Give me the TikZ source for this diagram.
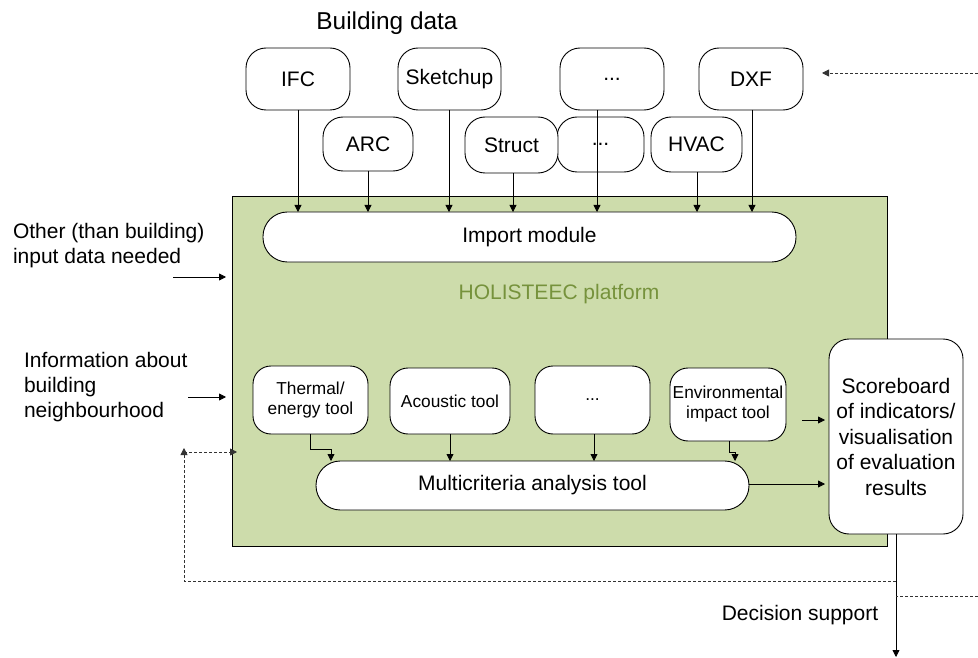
\documentclass[tikz,border=0pt]{standalone}
\usepackage{fontspec}
\setmainfont{Liberation Sans}
\usetikzlibrary{arrows.meta,calc}
\definecolor{platgreen}{RGB}{205,220,171}
\definecolor{olivetext}{RGB}{118,146,60}
\begin{document}
\begin{tikzpicture}[x=1pt,y=-1pt,
  every node/.style={inner sep=0pt,outer sep=0pt},
  box/.style={draw=black,line width=0.9pt,fill=white,rounded corners=20pt,align=center,font=\fontsize{21}{25}\selectfont},
  tool/.style={draw=black,line width=0.9pt,fill=white,rounded corners=18pt,align=center,font=\fontsize{17.3}{20}\selectfont},
  pill/.style={draw=black,line width=0.9pt,fill=white,rounded corners=24.4pt,align=center,font=\fontsize{21}{25}\selectfont},
  lbl/.style={font=\fontsize{21}{25}\selectfont},
  arr/.style={line width=0.8pt,-{Triangle[length=7pt,width=7pt]}},
  darr/.style={line width=0.8pt,black!80,dash pattern=on 3pt off 2pt,-{Triangle[length=7pt,width=7pt]}},
  dline/.style={line width=0.8pt,black!80,dash pattern=on 3pt off 2pt}]
\useasboundingbox (0,0) rectangle (978,658);
% platform
\node[draw=black,line width=0.9pt,fill=platgreen,minimum width=655pt,minimum height=350pt] (plat) at (559.5,371) {};
\node[lbl,text=olivetext] (platlbl) at (559,294) {HOLISTEEC platform};
% building data
\node[font=\fontsize{24.4}{28}\selectfont] (bd) at (387,23) {Building data};
\node[box,minimum width=104pt,minimum height=62pt] (ifc) at (298,79) {IFC};
\node[box,minimum width=103pt,minimum height=62pt] (sketch) at (449.5,79) {Sketchup};
\node[box,minimum width=104pt,minimum height=62pt] (dotsa) at (612,79) {...};
\node[box,minimum width=104pt,minimum height=62pt] (dxf) at (751,79) {DXF};
\node[box,minimum width=90pt,minimum height=54pt] (arc) at (368,144) {ARC};
\node[box,minimum width=87pt,minimum height=55pt] (dotsb) at (600.5,144.5) {...};
\node[box,minimum width=93pt,minimum height=56pt] (struct) at (511.5,145) {Struct};
\node[box,minimum width=91pt,minimum height=55pt] (hvac) at (696.5,144.5) {HVAC};
% import module
\node[pill,minimum width=533pt,minimum height=50pt] (imp) at (529.5,237) {Import module};
% arrows into import
\draw[arr] (ifc.south) -- (ifc.south |- imp.north);
\draw[arr] (arc.south) -- (arc.south |- imp.north);
\draw[arr] ([xshift=-0.5pt]sketch.south) -- ([xshift=-0.5pt]sketch.south |- imp.north);
\draw[arr] ([xshift=1.5pt]struct.south) -- ([xshift=1.5pt]struct.south |- imp.north);
\draw[arr] ([xshift=-15pt]dotsa.south) -- ([xshift=-15pt]dotsa.south |- imp.north);
\draw[arr] ([xshift=0.5pt]hvac.south) -- ([xshift=0.5pt]hvac.south |- imp.north);
\draw[arr] ([xshift=1pt]dxf.south) -- ([xshift=1pt]dxf.south |- imp.north);
% tools
\node[tool,minimum width=115pt,minimum height=68pt] (therm) at (310.5,400) {Thermal/\\energy tool};
\node[tool,minimum width=120pt,minimum height=66pt] (acou) at (450,401) {Acoustic tool};
\node[tool,minimum width=115pt,minimum height=68pt] (dotsc) at (592.5,400) {...};
\node[tool,minimum width=116pt,minimum height=73pt] (env) at (728,404.5) {Environmental\\impact tool};
\node[pill,minimum width=433pt,minimum height=49pt] (multi) at (532.5,485.5) {Multicriteria analysis tool};
\node[box,minimum width=134pt,minimum height=195pt,font=\fontsize{21}{25.5}\selectfont] (score) at (896,436.5) {Scoreboard\\of indicators/\\visualisation\\of evaluation\\results};
% tool arrows
\draw[arr] (therm.south) -- ++(0,15) -| ([xshift=-201.5pt]multi.north);
\draw[arr] (acou.south) -- (acou.south |- multi.north);
\draw[arr] ([xshift=1.5pt]dotsc.south) -- ([xshift=1.5pt]dotsc.south |- multi.north);
\draw[arr] ([xshift=1pt]env.south) -- ++(0,11) -| ([xshift=202.5pt]multi.north);
\draw[arr] ([xshift=16pt,yshift=-15.5pt]env.east) -- ([xshift=-4pt,yshift=16.5pt]score.west);
\draw[arr] ([yshift=1.5pt]multi.east) -- ([xshift=-4pt,yshift=-47.5pt]score.west);
% output
\coordinate (dsend) at (896,657);
\draw[arr] (score.south) -- (dsend);
\node[lbl] (ds) at (800,615) {Decision support};
% side inputs
\node[lbl,anchor=west,align=left] (other) at (13,245.5) {Other (than building)\\input data needed};
\node[lbl,anchor=west,align=left] (info) at (24,387) {Information about\\building\\neighbourhood};
\coordinate (oa) at (173,277);
\coordinate (ia) at (188,397);
\draw[arr] (oa) -- ([xshift=-6pt]oa -| plat.west);
\draw[arr] (ia) -- ([xshift=-6pt]ia -| plat.west);
% feedback loops
\coordinate (fbr) at (896,581);
\coordinate (fbl) at (184,581);
\coordinate (fbt) at (184,448);
\coordinate (fbc) at (184,452);
\draw[darr] (fbr) -- (fbl) -- (fbt);
\draw[darr] (fbc) -- ([xshift=5pt]fbc -| plat.west);
\coordinate (rb) at (978,596);
\draw[dline] (rb) -- (rb -| score.south);
\coordinate (rt) at (978,73);
\draw[darr] (rt) -- ([xshift=19pt,yshift=6pt]dxf.east);
\end{tikzpicture}
\end{document}
